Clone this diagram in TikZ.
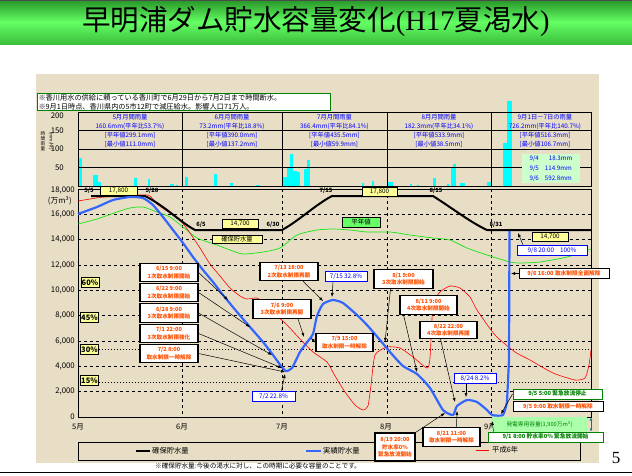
\documentclass[tikz,border=0pt]{standalone}
\usepackage{fontspec}
\setmainfont{Noto Sans CJK JP}
\newfontfamily\serifl{Liberation Serif}
\usetikzlibrary{arrows.meta,calc}
\newcommand\myfs[2]{\fontsize{#1}{#2}\selectfont}
\definecolor{parch}{RGB}{232,222,198}
\definecolor{callt}{RGB}{255,80,0}
\definecolor{hdrblue}{RGB}{0,0,255}
\definecolor{lineblue}{RGB}{51,102,255}
\definecolor{raincyan}{RGB}{0,255,255}
\definecolor{yfill}{RGB}{255,255,153}
\definecolor{gline}{RGB}{20,230,20}
\definecolor{dgreen}{RGB}{0,128,0}
\definecolor{pgreen}{RGB}{102,255,102}
\definecolor{lgreen}{RGB}{204,255,204}
\definecolor{tband}{RGB}{40,150,40}
\definecolor{mband}{RGB}{100,255,100}
\definecolor{bband}{RGB}{60,190,60}
\newcommand\rb[3]{\fill[raincyan] (#1,186) rectangle ({#1+#2},{186-0.37*#3});}
\begin{document}
\begin{tikzpicture}[x=1pt,y=-1pt,
  callout/.style={draw=black,line width=1.1pt,fill=white,text=callt,font=\myfs{5.6}{7.2}\bfseries,align=center,inner sep=0pt,minimum width=58pt,minimum height=18.5pt},
  bluebox/.style={draw=hdrblue,line width=1pt,fill=white,text=hdrblue,font=\myfs{6.3}{7},inner sep=0pt,minimum height=10.5pt},
  greenbox/.style={draw=dgreen,line width=1pt,fill=white,text=dgreen,font=\myfs{5.7}{6.5}\bfseries,inner sep=0pt,minimum height=10pt},
  redbox/.style={draw=black,line width=1pt,fill=white,text=callt,font=\myfs{5.7}{6.5}\bfseries,inner sep=0pt,minimum height=10pt},
  ybox/.style={draw=black,line width=0.8pt,fill=yfill,font=\myfs{6.3}{7},inner sep=0pt,minimum height=8.5pt},
  pbox/.style={draw=black,line width=0.8pt,fill=yfill,font=\myfs{7.5}{8}\bfseries,inner sep=0pt,minimum width=18pt,minimum height=10.5pt},
  datelbl/.style={font=\myfs{5.8}{6}\bfseries,inner sep=0pt},
  axlbl/.style={font=\myfs{7.8}{8},inner sep=0pt,anchor=east},
  hdr/.style={text=hdrblue,font=\myfs{6.3}{9.3},align=center,inner sep=0pt},
  arr/.style={-{Latex[length=4pt,width=3pt]},line width=0.5pt},
  grid/.style={line width=0.7pt,dash pattern=on 3pt off 3pt}]
\useasboundingbox (0,0) rectangle (632,475);
\fill[white] (0,0) rectangle (632,475);
% title band
\shade[top color=tband,bottom color=bband,middle color=mband] (0,0) rectangle (632,44);
\draw[line width=1.2pt,black!70] (0,0.6) -- (632,0.6);
\node (title) at (316,21) {\myfs{28.5}{30}早明浦ダム貯水容量変化{\serifl (H17}夏渇水{\serifl )}};
% parchment
\fill[parch] (36,74) rectangle (599,463);
% rain panel
\rb{78.5}{3}{76}\rb{93}{5}{30}\rb{98}{3}{11}\rb{134}{2.5}{21}\rb{147.5}{2.5}{18}\rb{170}{4}{5}\rb{176}{2}{4}
\rb{185}{2.5}{24}\rb{214}{2.5}{32}\rb{230}{3}{8}\rb{256}{4}{3}
\rb{282}{5}{24}\rb{287}{3}{51}\rb{290}{3}{86}\rb{293}{4}{40}\rb{297}{3}{37}\rb{304}{3}{46}\rb{307}{3}{70}
\rb{362}{2}{8}\rb{372}{2}{14}\rb{388}{5}{11}\rb{410}{2}{5}\rb{417}{2}{3}\rb{433}{2.5}{22}\rb{447}{2}{5}
\rb{450.5}{2.5}{51}\rb{453}{3}{59}\rb{460}{5}{8}\rb{487}{5}{11}\rb{503}{4}{116}\rb{507}{4.5}{230}
\foreach \yy in {130.5,149,167.5} \draw[line width=0.8pt] (78,\yy) -- (591,\yy);
\foreach \xx in {182,282,387,491} \draw[line width=0.8pt] (\xx,112) -- (\xx,186);
\draw[line width=0.9pt] (78,112) rectangle (591,186);
\node[axlbl,anchor=east] (r200) at (64,115.5) {200};
\node[axlbl,anchor=east] (r150) at (64,130.5) {150};
\node[axlbl,anchor=east] (r100) at (64,149) {100};
\node[axlbl,anchor=east] (r50) at (64,167.5) {50};
\node (rlab1) [font=\myfs{4.6}{5},align=center,inner sep=0pt] at (43,141) {時\\間\\雨\\量};
\node (rlab2) [font=\myfs{4.6}{5},rotate=-90,inner sep=0pt] at (51,141) {(mm/hr)};
\node[hdr] (h5) at (130,131) {5月月間雨量\\160.6mm(平年比53.7\%)\\{}[平年値299.1mm]\\{}[最小値111.0mm]};
\node[hdr] (h6) at (232,131) {6月月間雨量\\73.2mm(平年比18.8\%)\\{}[平年値390.0mm]\\{}[最小値137.2mm]};
\node[hdr] (h7) at (334.5,131) {7月月間雨量\\366.4mm(平年比84.1\%)\\{}[平年値435.5mm]\\{}[最小値59.9mm]};
\node[hdr] (h8) at (439,131) {8月月間雨量\\182.3mm(平年比34.1\%)\\{}[平年値533.9mm]\\{}[最小値38.5mm]};
\node[hdr] (h9) at (545,131) {9月1日－7日の雨量\\726.2mm(平年比140.7\%)\\{}[平年値516.3mm]\\{}[最小値106.7mm]};
\node (rainbox) [fill=lgreen,text=hdrblue,font=\myfs{6.2}{9.8},align=left,inner sep=2pt,minimum width=58pt,minimum height=29pt] at (551,168.5)
 {9/4\hspace{10pt}18.3mm\\9/5\hspace{6pt}114.9mm\\9/6\hspace{6pt}592.8mm};
% note box
\node (note) [draw=dgreen,line width=1pt,fill=white,anchor=north west,text width=291pt,inner sep=1pt,align=left,font=\myfs{7.2}{8.6}] at (37,93)
 {※香川用水の供給に頼っている香川町で6月29日から7月2日まで時間断水。\\※9月1日時点、香川県内の5市12町で減圧給水。影響人口71万人。};
% main chart grid
\foreach \yy in {391.67,366.33,341,315.67,290.33,265,239.67,214.33} \draw[grid] (78,\yy) -- (591,\yy);
\foreach \xx in {182,282,387,491} \draw[grid] (\xx,189) -- (\xx,417);
\draw[line width=0.6pt,dash pattern=on 1pt off 2pt] (99,349.5) -- (591,349.5);
\draw[line width=0.6pt,dash pattern=on 1pt off 2pt] (99,382) -- (591,382);
\draw[line width=0.9pt] (78,189) rectangle (591,417);
\node[axlbl] (y18) at (75,190) {18,000};
\node[axlbl] (yunit) at (72,201) {(万m\textsuperscript{3})};
\node[axlbl] (y16) at (75,214.33) {16,000};
\node[axlbl] (y14) at (75,239.67) {14,000};
\node[axlbl] (y12) at (75,265) {12,000};
\node[axlbl] (y10) at (75,290.33) {10,000};
\node[axlbl] (y8) at (75,315.67) {8,000};
\node[axlbl] (y6) at (75,341) {6,000};
\node[axlbl] (y4) at (75,366.33) {4,000};
\node[axlbl] (y2) at (75,391.67) {2,000};
\node[axlbl] (y0) at (75,417) {0};
\node[font=\myfs{7.5}{8}] (m5) at (78,427) {5月};
\node[font=\myfs{7.5}{8}] (m6) at (182,427) {6月};
\node[font=\myfs{7.5}{8}] (m7) at (282,427) {7月};
\node[font=\myfs{7.5}{8}] (m8) at (386,427) {8月};
\node[font=\myfs{7.5}{8}] (m9) at (490,427) {9月};
% data lines
\draw[gline,line width=0.7pt] plot[smooth,tension=0.4] coordinates {(78,224)(97,219)(117,212)(130,208)(143,207)(157,212)(170,217)(183,227)(197,238)(217,245)(230,250)(243,254)(263,252)(280,248)(297,235)(317,230)(333,229)(350,230)(367,232)(390,232)(410,235)(433,238)(450,240)(467,248)(487,255)(510,262)(520,263)(540,262)(567,257)(591,249)};
\draw[red,line width=0.6pt] plot[smooth,tension=0.35] coordinates {(78,201)(90,199)(103,197)(120,196)(148,195)(157,204)(167,211)(177,217)(185,226)(190,233)(200,248)(210,264)(220,276)(230,288)(240,296)(247,299)(257,298)(265,304)(273,312)(287,325)(300,339)(313,352)(327,362)(335,376)(345,392)(355,405)(363,410)(368,406)(371,385)(375,355)(387,347)(400,348)(413,357)(427,368)(430,358)(433,305)(440,292)(450,286)(460,288)(470,297)(477,310)(495,335)(515,352)(530,360)(553,373)(575,380)(585,378)(589,365)(591,350)};
\draw[line width=2pt,line join=round] (91,196) -- (145,196) .. controls (165,206) and (180,222) .. (195,230) -- (282,230) .. controls (300,220) and (315,205) .. (332,196) -- (433,196) .. controls (455,210) and (470,222) .. (487,230) -- (591,230);
\draw[lineblue,line width=2.2pt,line join=round] plot[smooth,tension=0.35] coordinates {(78,214)(97,207)(113,200)(130,197)(143,198)(153,205)(163,217)(173,230)(183,243)(193,257)(203,270)(213,282)(223,295)(237,312)(250,327)(263,342)(273,355)(281,366)(286,371)(292,368)(300,352)(308,341)(313,334)(317,316)(323,304)(333,300)(343,303)(357,315)(367,325)(380,340)(390,352)(403,366)(417,374)(430,388)(443,410)(453,415)(457,406)(467,400)(477,402)(487,410)(492,415)(503,415)(507,402)} -- (509,360) -- (509.5,231);
% labels on chart
\node[ybox,minimum width=37pt] (c178a) at (118.5,191) {17,800};
\node[ybox,minimum width=35pt] (c178b) at (379.5,192) {17,800};
\node[ybox,minimum width=36pt] (c147a) at (240,224) {14,700};
\node[ybox,minimum width=50pt] (kakuho) at (237,239.5) {確保貯水量};
\node[ybox,minimum width=36pt] (c147b) at (550,237) {14,700};
\node[draw=black,line width=0.8pt,fill=pgreen,font=\myfs{6.5}{7},inner sep=0pt,minimum width=38pt,minimum height=10pt] (heinen) at (361,222) {平年値};
\node[datelbl] (d55) at (89,191) {5/5};
\node[datelbl] (d528) at (152,191) {5/28};
\node[datelbl] (d65) at (201,225) {6/5};
\node[datelbl] (d630) at (273,225) {6/30};
\node[datelbl] (d715) at (326,191) {7/15};
\node[datelbl] (d815) at (436,191) {8/15};
\node[datelbl] (d831) at (496,225) {8/31};
\node[pbox] (p60) at (90,282.5) {60\%};
\node[pbox] (p45) at (89.5,317.5) {45\%};
\node[pbox] (p30) at (89.5,349.5) {30\%};
\node[pbox] (p15) at (89.5,380.5) {15\%};
% legend
\node (legend) [draw=black,line width=0.8pt,minimum width=502pt,minimum height=18pt,inner sep=0pt] at (329,451) {};
\draw[line width=1.8pt] (136,451) -- (150,451);
\node[font=\myfs{7.3}{8},anchor=west,inner sep=0pt] (lg1) at (152,451) {確保貯水量};
\draw[lineblue,line width=2pt] (306,451) -- (321,451);
\node[font=\myfs{7.3}{8},anchor=west,inner sep=0pt] (lg2) at (323,451) {実績貯水量};
\draw[red,line width=0.7pt] (476,450) -- (489,450);
\node[font=\myfs{7.3}{8},anchor=west,inner sep=0pt] (lg3) at (492,450) {平成6年};
\node[font=\myfs{6.6}{7},inner sep=0pt] (foot) at (258,466) {※確保貯水量:今後の渇水に対し、この時期に必要な容量のことです。};
% callouts
\node[callout] (cA) at (169,272.5) {6/15 9:00\\1次取水制限開始};
\node[callout] (cB) at (169,292.5) {6/22 9:00\\2次取水制限開始};
\node[callout] (cC) at (169,313) {6/28 9:00\\3次取水制限開始};
\node[callout] (cD) at (169,333.5) {7/1 22:00\\3次取水制限強化};
\node[callout] (cE) at (169,353.5) {7/2 8:00\\取水制限一時解除};
\node[callout] (c713) at (289,271.5) {7/13 18:00\\2次取水制限再開};
\node[callout] (c76) at (282,309) {7/6 9:00\\3次取水制限再開};
\node[callout,minimum width=57pt] (c79) at (344.5,342.5) {7/9 15:00\\取水制限一時解除};
\node[callout,minimum width=59pt] (c81) at (403.5,279) {8/1 9:00\\3次取水制限開始};
\node[callout,minimum width=57pt] (c811) at (428.5,305) {8/11 9:00\\4次取水制限開始};
\node[callout,minimum width=57pt,minimum height=17pt] (c822) at (448.5,330) {8/22 22:00\\4次取水制限再開};
\node[callout,minimum width=57pt] (c821) at (451.5,437) {8/21 11:00\\取水制限一時解除};
\node[callout,minimum width=40pt,minimum height=28pt] (c819) at (395,447) {8/19 20:00\\貯水率0\%\\緊急放流開始};
\node[bluebox,minimum width=43pt] (b72) at (273.5,396.5) {7/2 22.8\%};
\node[bluebox,minimum width=42pt] (b715) at (346,276.5) {7/15 32.8\%};
\node[bluebox,minimum width=42pt] (b824) at (475,378.5) {8/24 8.2\%};
\node[bluebox,minimum width=70pt] (b98) at (552,250.5) {9/8 20:00\hspace{6pt}100\%};
\node[greenbox,minimum width=89pt] (g95) at (557.5,394) {9/5 5:00 緊急放流停止};
\node[redbox,minimum width=90pt] (r95) at (558,406.5) {9/5 9:00 取水制限一時解除};
\node[fill=pgreen!55,text=dgreen,font=\myfs{5.7}{6.5},inner sep=0pt,minimum width=95pt,minimum height=15pt] (gcap) at (539.5,424.5) {発電専用容量(1,900万m\textsuperscript{3})};
\node[greenbox,minimum width=115pt] (g91) at (545.5,437) {9/1 8:00 貯水率0\% 緊急放流開始};
\node[redbox,minimum width=90pt] (r96) at (564,273.5) {9/6 16:00 取水制限全面解除};
% arrow targets
\coordinate (tA) at (228,300);
\coordinate (tB) at (250,327);
\coordinate (tC) at (272,355);
\coordinate (tD) at (282,368);
\coordinate (tE) at (285,372);
\coordinate (t72) at (285,374);
\coordinate (t713) at (323,301);
\coordinate (t76) at (304,337);
\coordinate (t715) at (332,297);
\coordinate (t79) at (311,338);
\coordinate (t81) at (385,342);
\coordinate (t811) at (417,372);
\coordinate (t822) at (455,402);
\coordinate (t824) at (466,397);
\coordinate (t819) at (445,413);
\coordinate (t821) at (457,411);
\coordinate (t95) at (501,414);
\coordinate (t91) at (492,421);
\coordinate (t98) at (518,233);
\coordinate (t96) at (511,273.5);
\draw[arr] (cA.east) -- (tA);
\draw[arr] (cB.east) -- (tB);
\draw[arr] (cC.east) -- (tC);
\draw[arr] (cD.east) -- (tD);
\draw[arr] (cE.east) -- (tE);
\draw[arr] ([xshift=8pt]b72.north) -- (t72);
\draw[arr] ([xshift=14pt]c713.south) -- (t713);
\draw[arr] ([xshift=16pt]c76.south) -- (t76);
\draw[arr] ([xshift=-13pt]b715.south) -- (t715);
\draw[arr] (c79.west) -- (t79);
\draw[arr] ([xshift=-13pt]c81.south) -- (t81);
\draw[arr] ([xshift=-25pt]c811.south) -- (t811);
\draw[arr] ([xshift=-8pt]c822.south) -- (t822);
\draw[arr] ([xshift=-9pt]b824.south) -- (t824);
\draw[arr] (c819.north east) -- (t819);
\draw[arr] ([xshift=5pt]c821.north) -- (t821);
\draw[arr] (g95.west) -- (t95);
\draw[arr] ([xshift=-52pt]g91.north) -- (t91);
\draw[arr] ([xshift=-29pt]b98.north) -- (t98);
\draw[arr] (r96.west) -- (t96);
\coordinate (gA) at (591,417.5);
\coordinate (gB) at (591,431.5);
\draw[{Latex[length=3pt,width=3pt]}-{Latex[length=3pt,width=3pt]},teal,line width=1pt] (gA) -- (gB);
% page number and bottom rule
\node[font=\serifl\myfs{17}{18},inner sep=0pt] (pg) at (616,458) {5};
\draw[line width=1pt] (0,472.5) -- (632,472.5);
\end{tikzpicture}
\end{document}
